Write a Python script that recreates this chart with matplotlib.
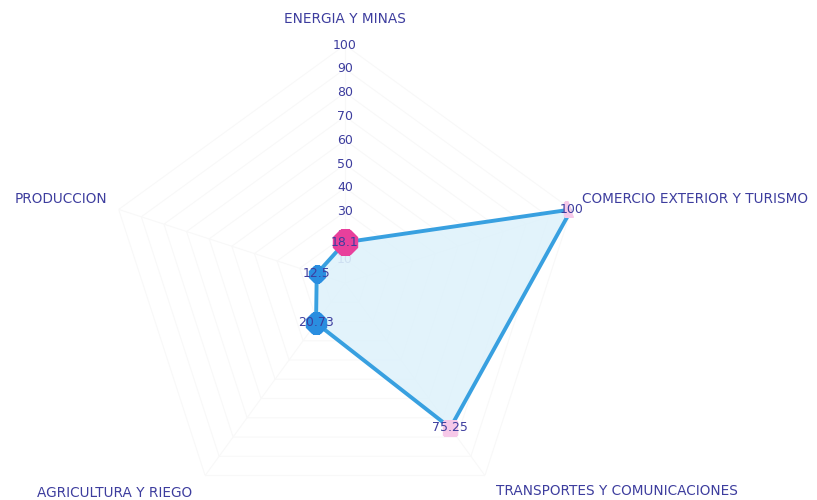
import numpy as np
import matplotlib
matplotlib.use('Agg')
from matplotlib import pyplot as plt

# sectors and values, clockwise from the top
categories = ['ENERGIA Y MINAS', 'COMERCIO EXTERIOR Y TURISMO',
              'TRANSPORTES Y COMUNICACIONES', 'AGRICULTURA Y RIEGO', 'PRODUCCION']
values = [17.1, 100, 75.25, 20.73, 12.5]
value_labels = ['18.1', '100', '75.25', '20.73', '12.5']
ticks = [10, 20, 30, 40, 50, 60, 70, 80, 90, 100]

# marker look for each point
marker_colors = ['#e8409c', '#f6c8e8', '#f6c8e8', '#2a8ee0', '#2a8ee0']
marker_shapes = ['8', 's', 's', '8', '8']
marker_sizes = [18, 10, 10, 15, 13]

text_color = '#3d3d9e'
line_color = '#38a0e0'

fig = plt.figure(figsize=(8.17, 5), dpi=100)
ax = fig.add_axes([0.131, -0.042, 0.5826, 0.952], projection='polar')
ax.set_theta_offset(np.pi / 2)
ax.set_theta_direction(-1)
ax.set_ylim(0, 100)
ax.grid(False)
ax.spines['polar'].set_visible(False)
ax.set_xticks([])
ax.set_yticks([])
ax.patch.set_alpha(0)

n = len(categories)
angles = np.linspace(0, 2 * np.pi, n, endpoint=False)
closed = np.append(angles, angles[0])

# very faint pentagon grid
for t in ticks:
    ax.plot(closed, [t] * (n + 1), color='#f8f8f8', lw=0.8, zorder=0)
for a in angles:
    ax.plot([a, a], [0, 100], color='#f8f8f8', lw=0.8, zorder=0)

# radial scale labels
for t in ticks:
    ax.text(0, t, str(t), color=text_color, fontsize=9, ha='center', va='center', zorder=1)

vals = np.append(values, values[0])
ax.fill(closed, vals, color='#dff2fb', alpha=0.9, zorder=2)
ax.plot(closed, vals, color=line_color, lw=2.8, zorder=3)

for a, v, c, m, s, lab in zip(angles, values, marker_colors, marker_shapes, marker_sizes, value_labels):
    ax.plot(a, v, marker=m, color=c, markersize=s, zorder=4)
    ax.text(a, v, lab, color=text_color, fontsize=9, ha='center', va='center', zorder=5)

# sector names
fs = 9.8
ax.text(angles[0], 111, categories[0], color=text_color, fontsize=fs, ha='center', va='center')
ax.text(angles[1], 104.5, categories[1], color=text_color, fontsize=fs, ha='left', va='bottom')
ax.text(angles[2], 108, categories[2], color=text_color, fontsize=fs, ha='left', va='center')
ax.text(angles[3], 109, categories[3], color=text_color, fontsize=fs, ha='right', va='center')
ax.text(angles[4], 105, categories[4], color=text_color, fontsize=fs, ha='right', va='bottom')

fig.savefig('out.png', dpi=100)
